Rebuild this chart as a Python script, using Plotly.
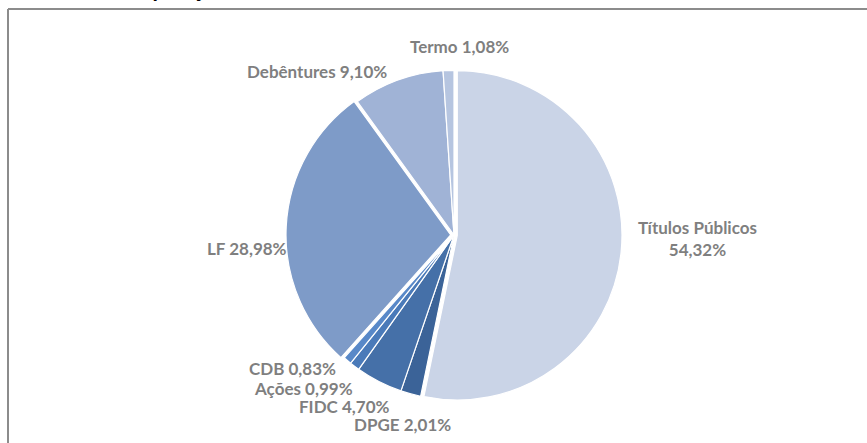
import plotly.graph_objects as go

categories = ["Títulos Públicos", "DPGE", "FIDC", "Ações", "CDB", "LF", "Debêntures", "Termo"]
values = [54.32, 2.01, 4.70, 0.99, 0.83, 28.98, 9.10, 1.08]
value_labels = ["54,32%", "2,01%", "4,70%", "0,99%", "0,83%", "28,98%", "9,10%", "1,08%"]
colors = ["#CAD4E7", "#3B6398", "#4570A8", "#4A7AB9", "#5888C8", "#7E9BC8", "#A0B3D6", "#B6C5E0"]
pulls = [0.02, 0, 0, 0, 0, 0.02, 0, 0]

# label centre positions in pixels (layout only)
label_pos = {
    "Títulos Públicos": (697, 238),
    "DPGE": (402, 424),
    "FIDC": (344, 406),
    "Ações": (303, 388),
    "CDB": (292, 368),
    "LF": (247, 248),
    "Debêntures": (317, 71),
    "Termo": (460, 46),
}

W, H = 867, 443
cx, cy, r = 454, 235, 168

fig = go.Figure(go.Pie(
    labels=categories,
    values=values,
    sort=False,
    direction="clockwise",
    rotation=0,
    pull=pulls,
    textinfo="none",
    hoverinfo="label+percent",
    marker=dict(colors=colors, line=dict(color="white", width=1.2)),
    domain=dict(x=[(cx - r) / W, (cx + r) / W], y=[(H - cy - r) / H, (H - cy + r) / H]),
    showlegend=False,
))

annotations = []
for cat, lab in zip(categories, value_labels):
    px, py = label_pos[cat]
    txt = f"{cat}<br>{lab}" if cat == "Títulos Públicos" else f"{cat} {lab}"
    annotations.append(dict(
        x=px / W, y=1 - py / H, xref="paper", yref="paper",
        text=txt, showarrow=False, xanchor="center", yanchor="middle",
        font=dict(family="Lato", size=17, color="#7F7F7F", weight="bold"),
    ))

# clipped title at the very top (only descenders visible)
annotations.append(dict(
    x=105 / W, y=1 + 11 / H, xref="paper", yref="paper",
    text="Composição", showarrow=False, xanchor="left", yanchor="middle",
    font=dict(family="Lato", size=22, color="#000000", weight="bold"),
))

fig.update_layout(
    width=W, height=H,
    margin=dict(l=0, r=0, t=0, b=0),
    paper_bgcolor="white",
    plot_bgcolor="white",
    annotations=annotations,
    shapes=[
        dict(type="line", xref="paper", yref="paper", x0=8 / W, x1=8 / W, y0=-0.1, y1=1 - 9 / H,
             line=dict(color="#8C8C8C", width=2)),
        dict(type="line", xref="paper", yref="paper", x0=8 / W, x1=1.1, y0=1 - 9 / H, y1=1 - 9 / H,
             line=dict(color="#8C8C8C", width=2)),
    ],
)

fig.write_html("out.html", config={"displayModeBar": False},
               post_script="document.body.style.margin='0px';")
